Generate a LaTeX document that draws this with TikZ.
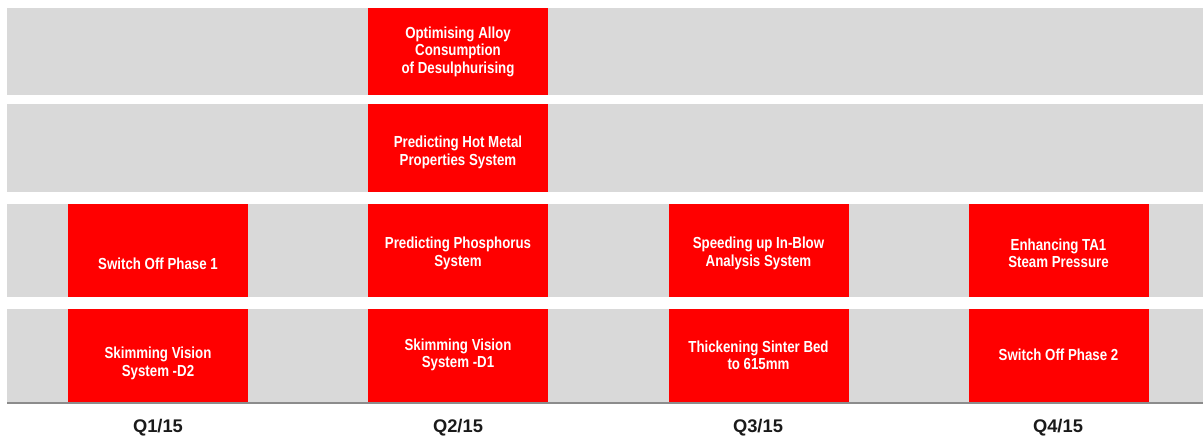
\documentclass[tikz,border=0pt]{standalone}
\usepackage{fontspec}
\setmainfont{Liberation Sans}
\newfontfamily\boxfont[FakeStretch=0.83]{Liberation Sans}
\definecolor{bandgray}{HTML}{D9D9D9}
\definecolor{boxred}{HTML}{FF0000}
\definecolor{axisgray}{HTML}{8C8C8C}
\definecolor{qtext}{HTML}{1A1A1A}
\tikzset{
  band/.style={fill=bandgray},
  redbox/.style={fill=boxred, draw=none, minimum width=180pt, inner sep=0pt},
  boxtxt/.style={text=white, font=\boxfont\bfseries\fontsize{16}{17.8}\selectfont, align=center, inner sep=0pt, yshift=-1.3pt},
  qlabel/.style={text=qtext, font=\bfseries\fontsize{18.3}{20}\selectfont, inner sep=0pt},
  axisline/.style={draw=axisgray, line width=1.5pt}
}
\begin{document}
\begin{tikzpicture}[x=1pt, y=-1pt]
\useasboundingbox (0,0) rectangle (1203,441);
% bands
\fill[band] (7,8) rectangle (1203,95.5);
\fill[band] (7,104) rectangle (1203,192);
\fill[band] (7,204) rectangle (1203,297);
\fill[band] (7,308.5) rectangle (1203,402.5);
% row 1
\node[redbox, minimum height=87.5pt] (r1q2) at (458,51.75) {};
\node[boxtxt] (t1q2) at (458,50.5) {Optimising Alloy\\Consumption\\of Desulphurising};
% row 2
\node[redbox, minimum height=88pt] (r2q2) at (458,148) {};
\node[boxtxt] (t2q2) at (458,151) {Predicting Hot Metal\\Properties System};
% row 3
\node[redbox, minimum height=93pt] (r3q1) at (158,250.5) {};
\node[boxtxt] (t3q1) at (158,262) {Switch Off Phase 1};
\node[redbox, minimum height=93pt] (r3q2) at (458,250.5) {};
\node[boxtxt] (t3q2) at (458,252) {Predicting Phosphorus\\System};
\node[redbox, minimum height=93pt] (r3q3) at (758.5,250.5) {};
\node[boxtxt] (t3q3) at (758.5,252) {Speeding up In-Blow\\Analysis System};
\node[redbox, minimum height=93pt] (r3q4) at (1058.5,250.5) {};
\node[boxtxt] (t3q4) at (1058.5,252) {Enhancing TA1\\Steam Pressure};
% row 4
\node[redbox, minimum height=94pt] (r4q1) at (158,355.5) {};
\node[boxtxt] (t4q1) at (158,362) {Skimming Vision\\System -D2};
\node[redbox, minimum height=94pt] (r4q2) at (458,355.5) {};
\node[boxtxt] (t4q2) at (458,353.5) {Skimming Vision\\System -D1};
\node[redbox, minimum height=94pt] (r4q3) at (758.5,355.5) {};
\node[boxtxt] (t4q3) at (758.5,354) {Thickening Sinter Bed\\to 615mm};
\node[redbox, minimum height=94pt] (r4q4) at (1058.5,355.5) {};
\node[boxtxt] (t4q4) at (1058.5,353) {Switch Off Phase 2};
% axis
\coordinate (axL) at (7,403);
\coordinate (axR) at (1203,403);
\draw[axisline] (axL) -- (axR);
% quarter labels
\node[qlabel] (q1) at (158,428) {Q1/15};
\node[qlabel] (q2) at (458,428) {Q2/15};
\node[qlabel] (q3) at (758,428) {Q3/15};
\node[qlabel] (q4) at (1058,428) {Q4/15};
\end{tikzpicture}
\end{document}
